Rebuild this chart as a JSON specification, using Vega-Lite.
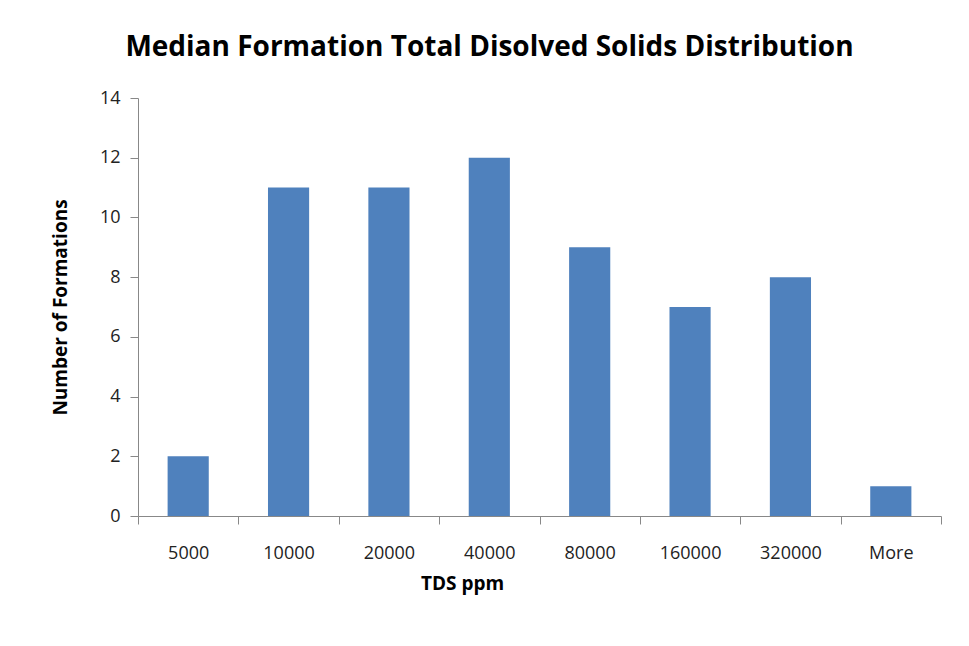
{
  "$schema": "https://vega.github.io/schema/vega-lite/v6.json",
  "width": 803,
  "height": 418,
  "autosize": {"type": "none"},
  "padding": {"left": 138, "top": 98, "right": 28, "bottom": 130},
  "background": "white",
  "title": {
    "text": "Median Formation Total Disolved Solids Distribution",
    "font": "Open Sans",
    "fontSize": 28,
    "fontWeight": "bold",
    "color": "#000000",
    "anchor": "middle",
    "dx": -50,
    "offset": 27
  },
  "data": {
    "values": [
      {"bin": "5000", "count": 2},
      {"bin": "10000", "count": 11},
      {"bin": "20000", "count": 11},
      {"bin": "40000", "count": 12},
      {"bin": "80000", "count": 9},
      {"bin": "160000", "count": 7},
      {"bin": "320000", "count": 8},
      {"bin": "More", "count": 1}
    ]
  },
  "mark": {"type": "bar", "color": "#4F81BD", "width": {"band": 0.41}},
  "encoding": {
    "x": {
      "field": "bin",
      "type": "nominal",
      "sort": null,
      "scale": {"paddingInner": 0, "paddingOuter": 0},
      "axis": {
        "title": "TDS ppm",
        "titleFont": "Open Sans",
        "titleFontSize": 19,
        "titleFontWeight": "bold",
        "titleColor": "#000000",
        "titleX": 324,
        "titlePadding": 12,
        "labelAngle": 0,
        "labelFont": "Open Sans",
        "labelFontSize": 18,
        "labelColor": "#222222",
        "labelPadding": 20,
        "tickBand": "extent",
        "tickSize": 8,
        "tickColor": "#888888",
        "domainColor": "#888888",
        "grid": false
      }
    },
    "y": {
      "field": "count",
      "type": "quantitative",
      "scale": {"domain": [0, 14], "nice": false},
      "axis": {
        "title": "Number of Formations",
        "titleFont": "Open Sans",
        "titleFontSize": 19,
        "titleFontWeight": "bold",
        "titleColor": "#000000",
        "titlePadding": 29,
        "values": [0, 2, 4, 6, 8, 10, 12, 14],
        "labelFont": "Open Sans",
        "labelFontSize": 18,
        "labelColor": "#222222",
        "labelPadding": 10,
        "tickSize": 8,
        "tickColor": "#888888",
        "domainColor": "#888888",
        "grid": false
      }
    }
  },
  "config": {"view": {"stroke": null}}
}
